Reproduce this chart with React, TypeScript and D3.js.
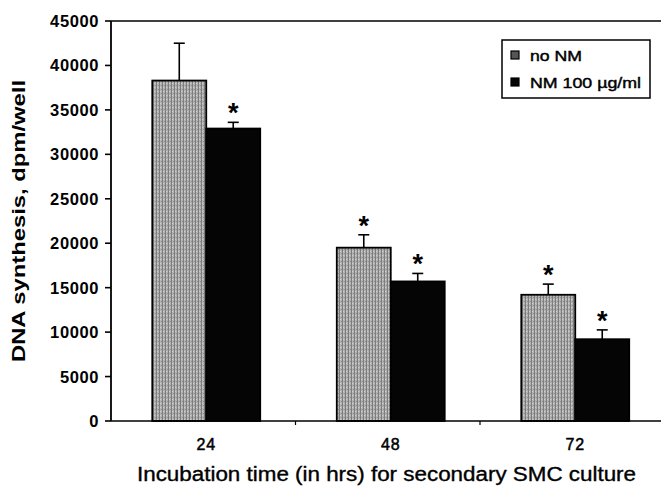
import * as d3 from "d3"

const categories = ["24", "48", "72"]
const noNM = [38300, 19500, 14200]
const noNMErr = [4200, 1450, 1200]
const nm100 = [32900, 15700, 9200]
const nm100Err = [700, 900, 1050]
const noNMSig = [false, true, true]
const nm100Sig = [true, true, true]
const yTicks = [0, 5000, 10000, 15000, 20000, 25000, 30000, 35000, 40000, 45000]
const seriesNames = ["no NM", "NM 100 µg/ml"]

const font = "'Liberation Sans', Arial, sans-serif"

export default function App() {
    const width = 661
    const height = 486
    const left = 111
    const right = 664.5
    const top = 21
    const bottom = 421

    const y = d3.scaleLinear().domain([0, 45000]).range([bottom, top])
    // bars sit a few px right of the band centre in the scan
    const x = d3.scaleBand().domain(categories).range([left + 3, right + 3]).paddingInner(0.415).paddingOuter(0.2075)
    const bw = x.bandwidth() / 2
    const step = x.step()

    const series = [
        { vals: noNM, err: noNMErr, sig: noNMSig, fill: "url(#grain)", off: 0 },
        { vals: nm100, err: nm100Err, sig: nm100Sig, fill: "#050505", off: bw },
    ]

    return (
        <svg width={width} height={height} style={{ position: "absolute", left: 0, top: 0, background: "#fff" }} fontFamily={font}>
            <defs>
                <pattern id="grain" width={3} height={4} patternUnits="userSpaceOnUse">
                    <rect width={3} height={4} fill="#b3b3b3" />
                    <line x1={0.5} x2={0.5} y1={0} y2={4} stroke="#7c7c7c" strokeWidth={1} />
                    <rect x={2} y={1} width={1} height={1} fill="#8f8f8f" />
                    <rect x={1} y={3} width={1} height={1} fill="#cfcfcf" />
                </pattern>
            </defs>

            {/* bars */}
            {series.map((s, si) =>
                categories.map((c, i) => {
                    const x0 = (x(c) ?? 0) + s.off
                    const yv = y(s.vals[i])
                    const cx = x0 + bw / 2
                    const ye = y(s.vals[i] + s.err[i])
                    return (
                        <g key={`${si}-${c}`}>
                            <line x1={cx} x2={cx} y1={yv} y2={ye} stroke="#000" strokeWidth={1.6} />
                            <line x1={cx - 5.5} x2={cx + 5.5} y1={ye} y2={ye} stroke="#000" strokeWidth={1.6} />
                            <rect x={x0} y={yv} width={bw} height={bottom - yv} fill={s.fill} stroke="#000" strokeWidth={1.8} />
                            {s.sig[i] && (
                                <text x={cx} y={ye} textAnchor="middle" fontSize={27} fontWeight="bold">*</text>
                            )}
                        </g>
                    )
                })
            )}

            {/* frame */}
            <line x1={left} x2={width} y1={top} y2={top} stroke="#000" strokeWidth={1.6} />
            <line x1={left} x2={left} y1={top} y2={bottom} stroke="#000" strokeWidth={1.8} />
            <line x1={left} x2={width} y1={bottom} y2={bottom} stroke="#000" strokeWidth={1.6} />

            {/* y axis */}
            {yTicks.map((t) => (
                <g key={t} transform={`translate(0, ${y(t)})`}>
                    <line x1={left - 6} x2={left} stroke="#000" strokeWidth={1.6} />
                    <text x={99} dy="0.36em" textAnchor="end" fontSize={16.5} fontWeight="bold" letterSpacing={0.6}>{t}</text>
                </g>
            ))}

            {/* x axis */}
            {categories.map((c, i) => (
                <g key={c}>
                    <line x1={left + step * (i + 1)} x2={left + step * (i + 1)} y1={bottom} y2={bottom + 4} stroke="#000" strokeWidth={1.2} />
                    <text x={(x(c) ?? 0) + x.bandwidth() / 2} y={450} textAnchor="middle" fontSize={16} letterSpacing={0.8} stroke="#000" strokeWidth={0.5}>{c}</text>
                </g>
            ))}

            <text x={137} y={481} fontSize={19.5} textLength={499} lengthAdjust="spacingAndGlyphs" stroke="#000" strokeWidth={0.35}>
                Incubation time (in hrs) for secondary SMC culture
            </text>
            <text transform="translate(25, 221) rotate(-90)" textAnchor="middle" fontSize={18} fontWeight="bold" textLength={282} lengthAdjust="spacingAndGlyphs">
                DNA synthesis, dpm/well
            </text>

            {/* legend */}
            <rect x={502} y={40} width={148} height={58} fill="#fff" stroke="#000" strokeWidth={1.5} />
            {seriesNames.map((n, i) => (
                <g key={n} transform={`translate(0, ${55 + i * 27})`}>
                    <rect x={511} y={-4} width={8} height={8} fill={i === 0 ? "#555" : "#050505"} stroke="#000" strokeWidth={1.2} />
                    <text x={530} y={6} fontSize={15.5} textLength={i === 0 ? 52 : 111} lengthAdjust="spacingAndGlyphs" stroke="#000" strokeWidth={0.45}>{n}</text>
                </g>
            ))}
        </svg>
    )
}
